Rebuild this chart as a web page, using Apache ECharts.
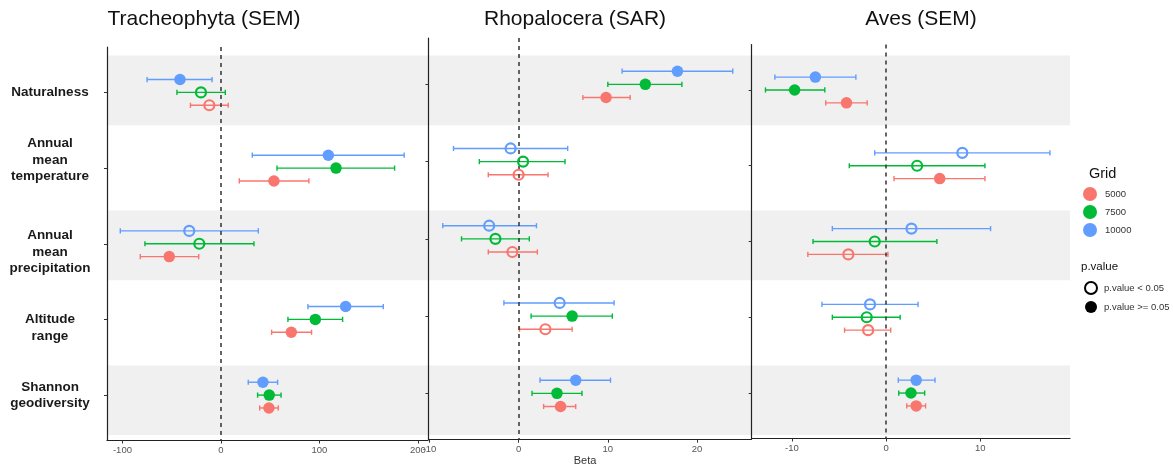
<!DOCTYPE html>
<html>
<head>
<meta charset="utf-8">
<script src="https://cdn.jsdelivr.net/npm/echarts@6/dist/echarts.min.js"></script>
<style>
html,body{margin:0;padding:0;background:#fff;}
#chart{width:1173px;height:468px;}
</style>
</head>
<body>
<div id="chart"></div>
<script>
// ---------- DATA ----------
const categories = ['Naturalness', 'Annual\nmean\ntemperature', 'Annual\nmean\nprecipitation', 'Altitude\nrange', 'Shannon\ngeodiversity'];
const gridSizes = ['5000', '7500', '10000'];
const panelTitles = ['Tracheophyta (SEM)', 'Rhopalocera (SAR)', 'Aves (SEM)'];
const pLegend = ['p.value < 0.05', 'p.value >= 0.05'];

// rows: grid 5000, 7500, 10000 ; columns follow categories
const tracheoBeta = [
  [-11.8, 53.8, -52.5, 71.4, 48.7],
  [-20.3, 116.8, -22.0, 95.8, 49.0],
  [-41.6, 109.0, -32.2, 126.6, 42.6]
];
const tracheoLow = [
  [-31.0, 18.6, -81.9, 51.4, 39.3],
  [-44.7, 56.9, -77.2, 68.0, 37.2],
  [-75.0, 31.8, -102.2, 88.3, 27.7]
];
const tracheoHigh = [
  [7.4, 89.3, -22.6, 92.0, 58.2],
  [4.4, 176.3, 33.5, 123.5, 61.0],
  [-9.0, 186.0, 37.9, 164.8, 57.5]
];
const tracheoHollow = [
  [1, 0, 0, 0, 0],
  [1, 0, 1, 0, 0],
  [0, 0, 1, 0, 0]
];

const rhopBeta = [
  [9.8, 0.0, -0.7, 3.0, 4.7],
  [14.2, 0.5, -2.6, 6.0, 4.3],
  [17.8, -0.9, -3.3, 4.6, 6.4]
];
const rhopLow = [
  [7.2, -3.4, -3.4, 0.1, 2.8],
  [10.0, -4.4, -6.4, 1.4, 1.5],
  [11.6, -7.3, -8.5, -1.65, 2.4]
];
const rhopHigh = [
  [12.5, 3.3, 2.1, 6.0, 6.4],
  [18.3, 5.2, 1.2, 10.5, 7.1],
  [24.0, 5.5, 2.0, 10.7, 10.3]
];
const rhopHollow = [
  [0, 1, 1, 1, 0],
  [0, 1, 1, 0, 0],
  [0, 1, 1, 1, 0]
];

const avesBeta = [
  [-4.2, 5.7, -4.0, -1.9, 3.2],
  [-9.7, 3.3, -1.2, -2.05, 2.65],
  [-7.5, 8.1, 2.7, -1.7, 3.2]
];
const avesLow = [
  [-6.4, 0.85, -8.3, -4.4, 2.2],
  [-12.8, -3.9, -7.75, -5.7, 1.35],
  [-11.8, -1.2, -5.7, -6.8, 1.3]
];
const avesHigh = [
  [-2.0, 10.5, 0.2, 0.5, 4.2],
  [-6.5, 10.5, 5.4, 1.5, 4.1],
  [-3.2, 17.4, 11.1, 3.4, 5.2]
];
const avesHollow = [
  [0, 0, 1, 1, 0],
  [0, 1, 1, 1, 0],
  [0, 1, 1, 1, 0]
];

const tracheoTicks = [-100, 0, 100, 200];
const rhopTicks = [-10, 0, 10, 20];
const avesTicks = [-10, 0, 10];
const catTicks = [1, 2, 3, 4, 5];

// ---------- STYLE / LAYOUT ----------
const colors = ['#F8766D', '#00BA38', '#619CFF'];
const dodge = [0.17, 0, -0.17];
const bandColor = '#F0F0F0';
const labelNudge = [0, -1, 1, 1, 0]; // -1: up half line, 1: down half line

const panels = [
  {beta: tracheoBeta, lo: tracheoLow, hi: tracheoHigh, hollow: tracheoHollow, ticks: tracheoTicks,
   grid: {left: 107, top: 47, width: 321, height: 393.5}, xmin: -115.7, xmax: 210.2, titleX: 204},
  {beta: rhopBeta, lo: rhopLow, hi: rhopHigh, hollow: rhopHollow, ticks: rhopTicks,
   grid: {left: 428.5, top: 38, width: 323, height: 401.7}, xmin: -10.1, xmax: 26.1, titleX: 575},
  {beta: avesBeta, lo: avesLow, hi: avesHigh, hollow: avesHollow, ticks: avesTicks,
   grid: {left: 751.7, top: 44.5, width: 318.3, height: 394}, xmin: -14.26, xmax: 19.53, titleX: 921}
];

const FONT = '"Liberation Sans", Arial, Helvetica, sans-serif';
const axisColor = '#222';

const grid = [], xAxis = [], yAxis = [], series = [];

panels.forEach((p, pi) => {
  grid.push(Object.assign({containLabel: false}, p.grid));
  xAxis.push({
    type: 'value', gridIndex: pi, min: p.xmin, max: p.xmax,
    splitLine: {show: false},
    axisLine: {show: true, onZero: false, lineStyle: {color: axisColor, width: 1.2}},
    axisTick: {show: true, length: 3, customValues: p.ticks, lineStyle: {color: '#333'}},
    axisLabel: {customValues: p.ticks, color: '#555', fontSize: 9.5, fontFamily: FONT, margin: 5,
      showMinLabel: true, showMaxLabel: true}
  });
  yAxis.push({
    type: 'value', gridIndex: pi, min: 0.4, max: 5.6, inverse: true,
    splitLine: {show: false},
    axisLine: {show: true, onZero: false, lineStyle: {color: axisColor, width: 1.2}},
    axisTick: {show: true, length: 3, customValues: catTicks, lineStyle: {color: '#333'}},
    axisLabel: pi === 0 ? {
      customValues: catTicks, align: 'center', margin: 57,
      fontSize: 13.5, fontWeight: 'bold', color: '#1a1a1a', fontFamily: FONT, lineHeight: 16.5,
      formatter: v => {
        const i = Math.round(v) - 1;
        let s = categories[i];
        if (labelNudge[i] < 0) s = s + '\n ';
        if (labelNudge[i] > 0) s = ' \n' + s;
        return s;
      }
    } : {show: false}
  });

  gridSizes.forEach((g, gi) => {
    const ebData = categories.map((c, ci) => [p.lo[gi][ci], p.hi[gi][ci], ci + 1 + dodge[gi]]);
    series.push({
      type: 'custom', name: 'eb-' + g + '-' + pi, xAxisIndex: pi, yAxisIndex: pi, z: 3,
      silent: true,
      encode: {x: [0, 1], y: 2},
      data: ebData,
      renderItem: (params, api) => {
        const y = api.value(2);
        const a = api.coord([api.value(0), y]);
        const b = api.coord([api.value(1), y]);
        const h = 2.6;
        const st = {stroke: colors[gi], lineWidth: 1.4};
        return {type: 'group', children: [
          {type: 'line', shape: {x1: a[0], y1: a[1], x2: b[0], y2: b[1]}, style: st},
          {type: 'line', shape: {x1: a[0], y1: a[1] - h, x2: a[0], y2: a[1] + h}, style: st},
          {type: 'line', shape: {x1: b[0], y1: b[1] - h, x2: b[0], y2: b[1] + h}, style: st}
        ]};
      }
    });
    const ptData = categories.map((c, ci) => {
      const hollow = p.hollow[gi][ci] === 1;
      return {
        value: [p.beta[gi][ci], ci + 1 + dodge[gi]],
        symbolSize: hollow ? 10 : 11.5,
        itemStyle: hollow
          ? {color: 'rgba(255,255,255,0)', borderColor: colors[gi], borderWidth: 2.2, opacity: 1}
          : {color: colors[gi], borderWidth: 0, opacity: 1}
      };
    });
    const s = {
      type: 'scatter', name: g, xAxisIndex: pi, yAxisIndex: pi, z: 5,
      symbol: 'circle', itemStyle: {color: colors[gi], opacity: 1},
      data: ptData, silent: true
    };
    if (gi === 1) {
      s.markLine = {
        silent: true, symbol: ['none', 'none'], z: 4,
        label: {show: false},
        lineStyle: {color: '#333', type: [4, 4], width: 1.5},
        data: [{xAxis: 0}]
      };
    }
    series.push(s);
  });
});

// background grid for alternating bands
grid.push({left: 107, top: 44, width: 963, height: 402.7});
xAxis.push({type: 'value', gridIndex: 3, min: 0, max: 1, show: false});
yAxis.push({type: 'value', gridIndex: 3, min: 0.4, max: 5.6, inverse: true, show: false});
series.push({
  type: 'scatter', name: 'bands', xAxisIndex: 3, yAxisIndex: 3, z: 0, data: [], silent: true,
  markArea: {
    silent: true, z: 0,
    itemStyle: {color: bandColor, opacity: 1},
    data: [1, 3, 5].map(c => [{yAxis: c - 0.45}, {yAxis: c + 0.45}])
  }
});
// p.value legend dummies
series.push({type: 'scatter', name: pLegend[0], xAxisIndex: 3, yAxisIndex: 3, data: [],
  itemStyle: {color: '#fff', borderColor: '#000', borderWidth: 2.5, opacity: 1}});
series.push({type: 'scatter', name: pLegend[1], xAxisIndex: 3, yAxisIndex: 3, data: [],
  itemStyle: {color: '#000', opacity: 1}});

const graphic = panelTitles.map((t, i) => ({
  type: 'text', x: panels[i].titleX, y: 19,
  style: {text: t, fontSize: 21, fontFamily: FONT, fill: '#111', textAlign: 'center', textVerticalAlign: 'middle'}
}));
graphic.push({type: 'text', x: 585, y: 461,
  style: {text: 'Beta', fontSize: 11, fontFamily: FONT, fill: '#333', textAlign: 'center', textVerticalAlign: 'middle'}});
graphic.push({type: 'text', x: 1089, y: 174,
  style: {text: 'Grid', fontSize: 14.5, fontFamily: FONT, fill: '#111', textAlign: 'left', textVerticalAlign: 'middle'}});
graphic.push({type: 'text', x: 1081, y: 267,
  style: {text: 'p.value', fontSize: 11.5, fontFamily: FONT, fill: '#111', textAlign: 'left', textVerticalAlign: 'middle'}});

const option = {
  animation: false,
  backgroundColor: '#fff',
  grid, xAxis, yAxis, series, graphic,
  legend: [
    {data: gridSizes, orient: 'vertical', left: 1083, top: 187, icon: 'circle',
     itemWidth: 14, itemHeight: 14, itemGap: 4, selectedMode: false, padding: 0,
     textStyle: {fontSize: 9.5, color: '#333', fontFamily: FONT, padding: [0, 0, 0, 3]}},
    {data: pLegend, orient: 'vertical', left: 1084, top: 281, icon: 'circle',
     itemWidth: 12, itemHeight: 12, itemGap: 6, selectedMode: false, padding: 0,
     textStyle: {fontSize: 9.5, color: '#333', fontFamily: FONT, padding: [0, 0, 0, 2]}}
  ]
};

const chart = echarts.init(document.getElementById('chart'), null, {renderer: 'canvas'});
chart.setOption(option);
</script>
</body>
</html>
